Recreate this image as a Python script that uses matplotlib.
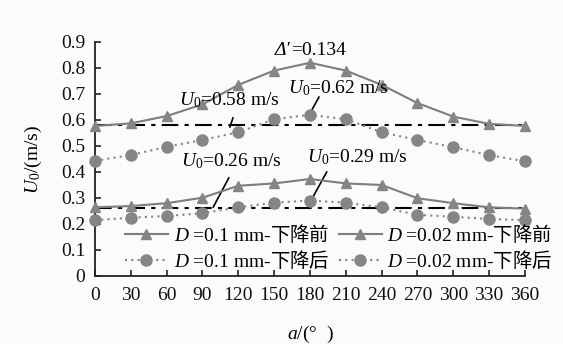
import matplotlib
matplotlib.use("Agg")
import matplotlib.pyplot as plt

plt.rcParams['font.family'] = ['Liberation Serif', 'Noto Sans CJK SC', 'DejaVu Sans']
plt.rcParams['mathtext.fontset'] = 'custom'
plt.rcParams['mathtext.rm'] = 'Liberation Serif'
plt.rcParams['mathtext.it'] = 'Liberation Serif:italic'
plt.rcParams['mathtext.bf'] = 'Liberation Serif:bold'
plt.rcParams['mathtext.sf'] = 'Noto Sans CJK SC'

# Angle around the pipe (deg)
angles = [0, 30, 60, 90, 120, 150, 180, 210, 240, 270, 300, 330, 360]

# Critical velocity before / after the drop, two particle sizes
u_01_before = [0.264, 0.269, 0.280, 0.301, 0.347, 0.356, 0.373, 0.356, 0.350, 0.299, 0.280, 0.264, 0.259]
u_01_after = [0.215, 0.224, 0.231, 0.241, 0.264, 0.282, 0.290, 0.282, 0.264, 0.235, 0.228, 0.219, 0.215]
u_002_before = [0.577, 0.587, 0.615, 0.660, 0.735, 0.790, 0.820, 0.790, 0.735, 0.665, 0.613, 0.585, 0.577]
u_002_after = [0.443, 0.465, 0.497, 0.523, 0.553, 0.603, 0.620, 0.603, 0.553, 0.523, 0.495, 0.465, 0.441]

# Reference levels
u_ref_high = 0.58
u_ref_low = 0.26

legend_labels = [r"$\mathit{D}\ $=0.1 mm-$\mathsf{下降前}$",
                 r"$\mathit{D}\ $=0.1 mm-$\mathsf{下降后}$",
                 r"$\mathit{D}\ $=0.02 mm-$\mathsf{下降前}$",
                 r"$\mathit{D}\ $=0.02 mm-$\mathsf{下降后}$"]

xticks = list(range(0, 361, 30))
yticks = [0, 0.1, 0.2, 0.3, 0.4, 0.5, 0.6, 0.7, 0.8, 0.9]
ytick_labels = ["0", "0.1", "0.2", "0.3", "0.4", "0.5", "0.6", "0.7", "0.8", "0.9"]

fig = plt.figure(figsize=(5.63, 3.44), dpi=100)
fig.patch.set_facecolor('#fbfbfb')
ax = fig.add_axes([0.1687, 0.1977, 0.9325 - 0.1687, 0.878 - 0.1977])
ax.set_facecolor('none')

gray = '#7d7d7d'
mgray = '#858585'
solid_kw = dict(color=gray, lw=1.5, marker='^', ms=7.5, mfc=mgray, mec=mgray, clip_on=False, zorder=3)
dot_kw = dict(color=mgray, lw=1.5, ls=(0, (1, 2)), marker='o', ms=8, mfc=mgray, mec=mgray, clip_on=False, zorder=3)

h1, = ax.plot(angles, u_01_before, **solid_kw)
h2, = ax.plot(angles, u_01_after, **dot_kw)
h3, = ax.plot(angles, u_002_before, **solid_kw)
h4, = ax.plot(angles, u_002_after, **dot_kw)

dashdot = (0, (8, 3, 2, 3))
ax.plot([0, 360], [u_ref_high, u_ref_high], color='black', lw=1.5, ls=dashdot, zorder=2)
ax.plot([0, 360], [u_ref_low, u_ref_low], color='black', lw=1.5, ls=dashdot, zorder=2)

ax.set_xlim(0, 360)
ax.set_ylim(0, 0.9)
ax.set_xticks(xticks)
ax.set_yticks(yticks)
ax.set_yticklabels(ytick_labels)
for s in ['top', 'right']:
    ax.spines[s].set_visible(False)
for s in ['left', 'bottom']:
    ax.spines[s].set_color('#222222')
    ax.spines[s].set_linewidth(1.3)
fs = 14
ax.tick_params(axis='both', direction='in', length=4, width=1.2, color='#222222',
               labelsize=fs, labelcolor='#111111')
ax.tick_params(axis='x', pad=8)
ax.tick_params(axis='y', pad=7)

ax.set_ylabel(r"$\mathit{U}_0$/(m/s)", fontsize=fs, labelpad=12)
ax.set_xlabel(r"$\mathit{a}$/(°  )", fontsize=fs, labelpad=14)

# Delta' label: italic symbol followed by upright value
ax.text(164, 0.869, "Δ′", ha='right', va='center', fontsize=fs,
        fontstyle='italic', family='Liberation Serif')
ax.text(164, 0.869, "=0.134", ha='left', va='center', fontsize=fs)
ax.text(204, 0.723, r"$\mathit{U}_0$=0.62 m/s", ha='center', va='center', fontsize=fs)
ax.text(113, 0.677, r"$\mathit{U}_0$=0.58 m/s", ha='center', va='center', fontsize=fs)
ax.text(114.5, 0.44, r"$\mathit{U}_0$=0.26 m/s", ha='center', va='center', fontsize=fs)
ax.text(220, 0.458, r"$\mathit{U}_0$=0.29 m/s", ha='center', va='center', fontsize=fs)

# Pointer strokes
ax.plot([187.5, 181.5], [0.688, 0.638], color='black', lw=1.2)
ax.plot([115.5, 113], [0.608, 0.573], color='black', lw=1.2)
ax.plot([112, 99], [0.377, 0.265], color='black', lw=1.2)
ax.plot([194, 182.5], [0.400, 0.304], color='black', lw=1.2)

ax.legend([h1, h2, h3, h4], legend_labels, ncol=2, frameon=False, fontsize=fs,
          loc='center left', bbox_to_anchor=(0.222, 0.283), bbox_transform=fig.transFigure,
          handlelength=2.2, handletextpad=0.3, columnspacing=0.5, labelspacing=0.2,
          borderpad=0.0, borderaxespad=0)

fig.savefig('out.png', dpi=100, facecolor=fig.get_facecolor())
